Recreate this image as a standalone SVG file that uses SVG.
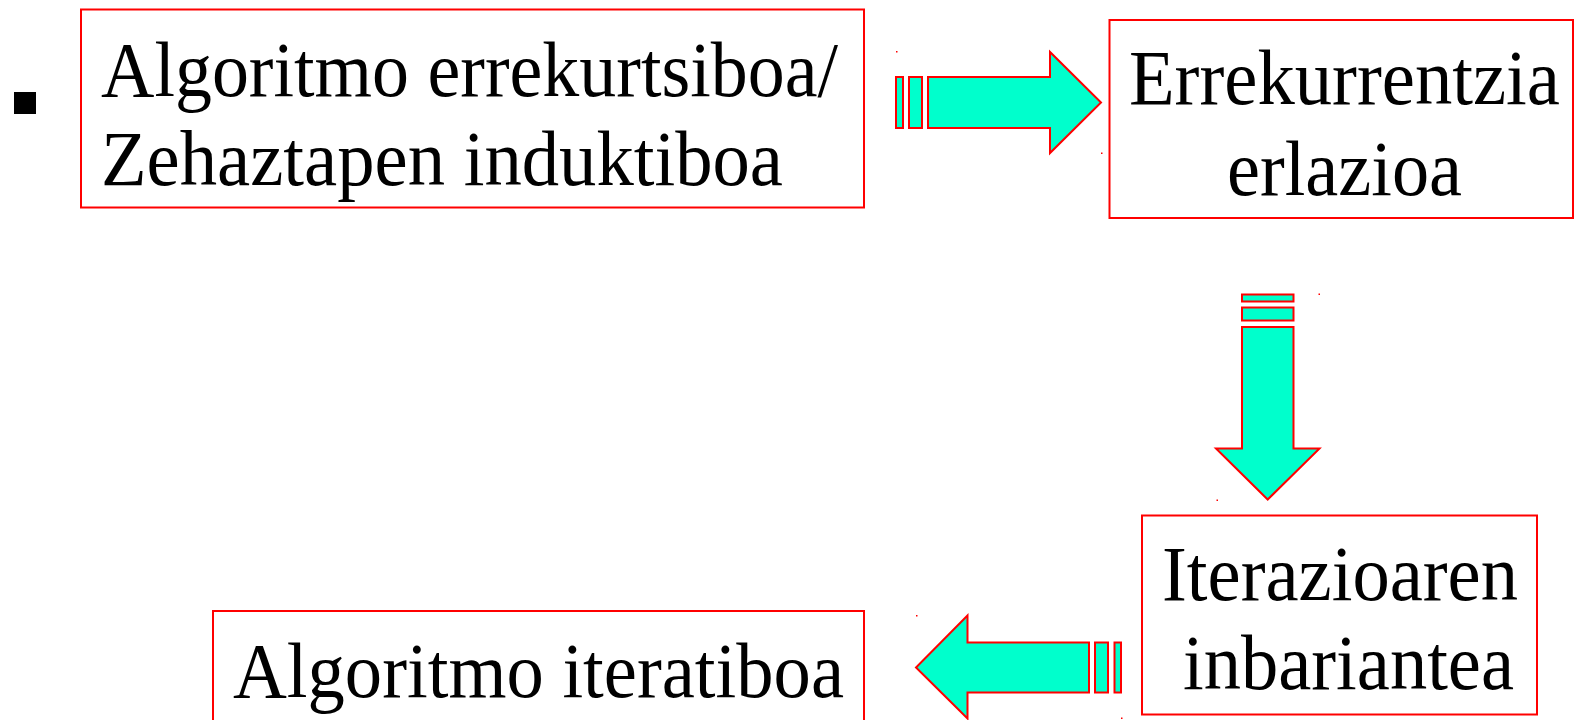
<svg xmlns="http://www.w3.org/2000/svg" width="1575" height="720" viewBox="0 0 1575 720">
<style>
.box{fill:#ffffff;stroke:#ff0000;stroke-width:2}
.lbl{font-family:"Liberation Serif","Times New Roman",serif;font-size:78px;fill:#000000}
.arr{fill:#00ffcc;stroke:#ff0000;stroke-width:2;stroke-linejoin:miter}
.dot{fill:#ff0000}
</style>
<rect width="1575" height="720" fill="#ffffff"/>
<rect x="14" y="92" width="22" height="22" fill="#000000"/>
<g id="node-recursive">
<rect class="box" x="81" y="9.5" width="783" height="198"/>
<text class="lbl" x="101" y="95.5" textLength="737" lengthAdjust="spacingAndGlyphs">Algoritmo errekurtsiboa/</text>
<text class="lbl" x="101" y="185" textLength="682" lengthAdjust="spacingAndGlyphs">Zehaztapen induktiboa</text>
</g>
<g id="node-recurrence">
<rect class="box" x="1109.5" y="20" width="463.5" height="198"/>
<text class="lbl" x="1129" y="104" textLength="431" lengthAdjust="spacingAndGlyphs">Errekurrentzia</text>
<text class="lbl" x="1227" y="195" textLength="235" lengthAdjust="spacingAndGlyphs">erlazioa</text>
</g>
<g id="node-invariant">
<rect class="box" x="1142" y="515.5" width="395" height="199"/>
<text class="lbl" x="1162" y="600" textLength="356" lengthAdjust="spacingAndGlyphs">Iterazioaren</text>
<text class="lbl" x="1183" y="689" textLength="331" lengthAdjust="spacingAndGlyphs">inbariantea</text>
</g>
<g id="node-iterative">
<rect class="box" x="213" y="611" width="651" height="120"/>
<text class="lbl" x="233" y="697" textLength="611" lengthAdjust="spacingAndGlyphs">Algoritmo iteratiboa</text>
</g>
<g id="connectors">
<g id="arrow-right">
<rect class="arr" x="896" y="77" width="7" height="51"/>
<rect class="arr" x="909" y="77" width="13" height="51"/>
<polygon class="arr" points="928,77 1050,77 1050,52 1101,102.5 1050,153 1050,128 928,128"/>
<rect class="dot" x="896" y="51" width="1.5" height="1.5"/>
<rect class="dot" x="1101" y="152.5" width="1.5" height="1.5"/>
</g>
<g id="arrow-down">
<rect class="arr" x="1242" y="294.5" width="51.5" height="7"/>
<rect class="arr" x="1242" y="307.5" width="51.5" height="13"/>
<polygon class="arr" points="1242,327 1293.5,327 1293.5,448.5 1319.5,448.5 1267.7,499.5 1216,448.5 1242,448.5"/>
<rect class="dot" x="1318.5" y="293.5" width="1.5" height="1.5"/>
<rect class="dot" x="1216.5" y="499.5" width="1.5" height="1.5"/>
</g>
<g id="arrow-left">
<rect class="arr" x="1114.5" y="642.5" width="6.5" height="50"/>
<rect class="arr" x="1095" y="642.5" width="13" height="50"/>
<polygon class="arr" points="1089,642.5 967.5,642.5 967.5,615.5 916,667.5 967.5,718.5 967.5,692.5 1089,692.5"/>
<rect class="dot" x="916" y="615" width="1.5" height="1.5"/>
<rect class="dot" x="1121" y="717.5" width="1.5" height="1.5"/>
</g>
</g>
</svg>
